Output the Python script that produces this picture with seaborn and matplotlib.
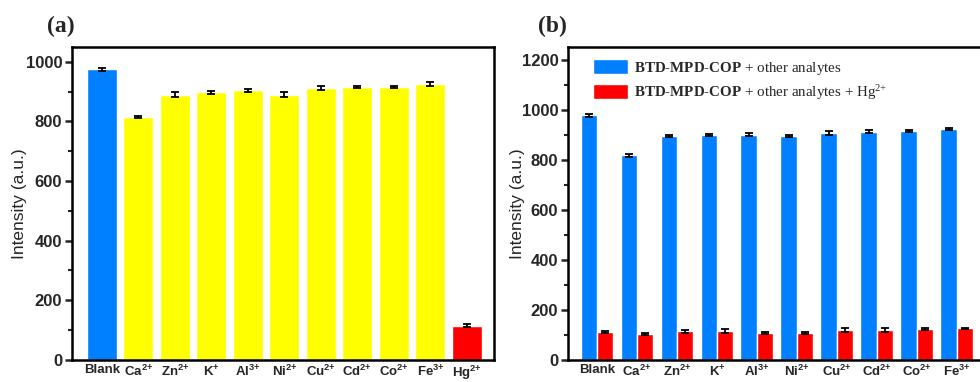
import matplotlib.pyplot as plt
import seaborn as sns
import pandas as pd

# panel (a): single analyte response
ions_a = ["Blank", "Ca2+", "Zn2+", "K+", "Al3+", "Ni2+", "Cu2+", "Cd2+", "Co2+", "Fe3+", "Hg2+"]
labels_a = ["Blank", "Ca$^{2{+}}$", "Zn$^{2{+}}$", "K$^{{+}}$", "Al$^{3{+}}$", "Ni$^{2{+}}$",
            "Cu$^{2{+}}$", "Cd$^{2{+}}$", "Co$^{2{+}}$", "Fe$^{3{+}}$", "Hg$^{2{+}}$"]
intensity_a = [975, 815, 890, 898, 905, 890, 912, 915, 915, 925, 115]
err_a = [5, 5, 8, 5, 5, 8, 7, 3, 4, 6, 5]
colors_a = ["#0080FF"] + ["#FFFF00"] * 9 + ["#FF0000"]

# panel (b): competition with Hg2+
ions_b = ["Blank", "Ca2+", "Zn2+", "K+", "Al3+", "Ni2+", "Cu2+", "Cd2+", "Co2+", "Fe3+"]
labels_b = labels_a[:10]
other = [978, 818, 893, 898, 900, 896, 908, 912, 915, 922]
other_err = [6, 6, 4, 4, 6, 4, 8, 5, 5, 5]
with_hg = [113, 104, 114, 117, 107, 109, 120, 119, 122, 126]
with_hg_err = [4, 4, 5, 8, 5, 4, 8, 7, 4, 3]
series_b = ["other", "hg"]

sns.set_theme(style="ticks")
plt.rcParams["font.family"] = ["Liberation Sans", "DejaVu Sans"]
plt.rcParams["mathtext.default"] = "regular"
plt.rcParams["mathtext.fontset"] = "custom"
plt.rcParams["mathtext.bf"] = "Liberation Serif:bold"
plt.rcParams["mathtext.rm"] = "Liberation Serif"

fig = plt.figure(figsize=(9.8, 3.82), dpi=100)
ax1 = fig.add_axes([0.0735, 0.058, 0.4305, 0.819])
ax2 = fig.add_axes([0.5796, 0.058, 0.467, 0.819])

df_a = pd.DataFrame({"ion": ions_a, "intensity": intensity_a})
sns.barplot(data=df_a, x="ion", y="intensity", hue="ion", palette=colors_a,
            width=0.82, legend=False, saturation=1, ax=ax1)
ax1.errorbar(range(len(ions_a)), intensity_a, yerr=err_a, fmt="none",
             ecolor="black", elinewidth=1.3, capsize=3, capthick=1.3)
ax1.set_xlim(-0.82, len(ions_a) - 0.26)
ax1.set_ylim(0, 1050)
ax1.set_yticks(range(0, 1001, 200))
ax1.set_yticks(range(100, 1001, 200), minor=True)
ax1.set_xticks(range(len(ions_a)))
ax1.set_xticklabels(labels_a)

df_b = pd.DataFrame({
    "ion": ions_b * 2,
    "intensity": other + with_hg,
    "err": other_err + with_hg_err,
    "series": [series_b[0]] * len(ions_b) + [series_b[1]] * len(ions_b),
})
sns.barplot(data=df_b, x="ion", y="intensity", hue="series",
            palette=["#0080FF", "#FF0000"], width=0.82, saturation=1, ax=ax2)
bars = [p for p in ax2.patches if p.get_height() > 0]
for p, v, e in zip(bars, df_b["intensity"], df_b["err"]):
    ax2.errorbar(p.get_x() + p.get_width() / 2, v, yerr=e, fmt="none",
                 ecolor="black", elinewidth=1.3, capsize=3, capthick=1.3)
ax2.set_xlim(-0.725, 10.725)
ax2.set_ylim(0, 1250)
ax2.set_yticks(range(0, 1201, 200))
ax2.set_yticks(range(100, 1201, 200), minor=True)
ax2.set_xticks(range(len(ions_b)))
ax2.set_xticklabels(labels_b)

handles, _ = ax2.get_legend_handles_labels()
ax2.legend(handles,
           ["$\\mathbf{BTD\u2010MPD\u2010COP}$ + other analytes",
            "$\\mathbf{BTD\u2010MPD\u2010COP}$ + other analytes + Hg$^{2{+}}$"],
           loc="upper left", bbox_to_anchor=(0.035, 0.99), frameon=False,
           prop={"family": "Liberation Serif", "size": 10.8, "weight": "normal"},
           handlelength=2.3, handleheight=1.15, labelspacing=0.4, handletextpad=0.4,
           borderaxespad=0.2)

for ax in (ax1, ax2):
    for s in ax.spines.values():
        s.set_linewidth(1.8)
        s.set_color("black")
    ax.tick_params(axis="y", which="major", length=5, width=1.8, labelsize=12,
                   direction="out", pad=2)
    ax.tick_params(axis="y", which="minor", length=3, width=1.5, direction="out")
    ax.tick_params(axis="x", length=0, labelsize=9.5, pad=3)
    ax.set_xlabel("")
    ax.set_ylabel("Intensity (a.u.)", fontsize=12.5)
    for t in ax.get_xticklabels() + ax.get_yticklabels():
        t.set_fontweight("bold")

ax1.yaxis.set_label_coords(-0.106, 0.5)
ax2.yaxis.set_label_coords(-0.094, 0.5)

fig.text(0.062, 0.93, "(a)", fontsize=17, fontweight="bold",
         family="Liberation Serif", ha="center", va="center")
fig.text(0.564, 0.93, "(b)", fontsize=17, fontweight="bold",
         family="Liberation Serif", ha="center", va="center")

fig.savefig("out.png", dpi=100)
